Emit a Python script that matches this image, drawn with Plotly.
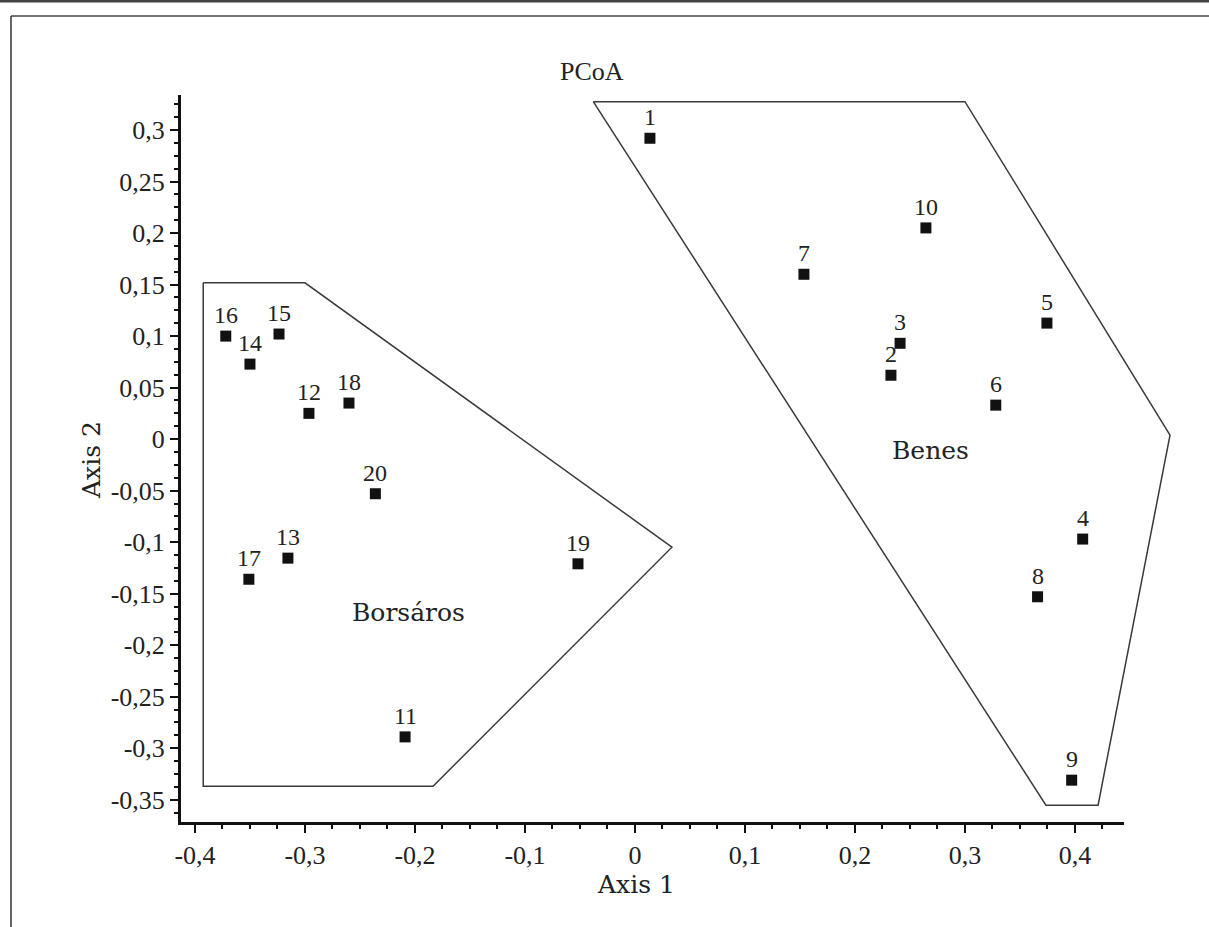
import plotly.graph_objects as go

# ---- data ----
sample_ids = [str(i) for i in range(1, 21)]
axis1 = [0.0136, 0.2327, 0.241, 0.407, 0.3745, 0.328, 0.1536, 0.366, 0.397, 0.2645,
         -0.209, -0.2964, -0.3155, -0.350, -0.3236, -0.372, -0.351, -0.260, -0.0518, -0.236]
axis2 = [0.292, 0.062, 0.093, -0.097, 0.1126, 0.033, 0.160, -0.153, -0.331, 0.205,
         -0.289, 0.025, -0.1155, 0.0728, 0.102, 0.100, -0.136, 0.035, -0.121, -0.053]

benes_hull_x = [-0.0379, 0.300, 0.4864, 0.421, 0.3736, -0.0379]
benes_hull_y = [0.3275, 0.3275, 0.0039, -0.3553, -0.3553, 0.3275]
borsaros_hull_x = [-0.3925, -0.300, 0.0336, -0.1836, -0.3925, -0.3925]
borsaros_hull_y = [0.1517, 0.1517, -0.1049, -0.3369, -0.3369, 0.1517]

group_names = ["Benes", "Borsáros"]
group_label_x = [0.269, -0.206]
group_label_y = [-0.011, -0.168]

x_ticks = [-0.4, -0.3, -0.2, -0.1, 0.0, 0.1, 0.2, 0.3, 0.4]
x_ticktext = ["-0,4", "-0,3", "-0,2", "-0,1", "0", "0,1", "0,2", "0,3", "0,4"]
y_ticks = [0.3, 0.25, 0.2, 0.15, 0.1, 0.05, 0.0, -0.05, -0.1, -0.15, -0.2, -0.25, -0.3, -0.35]
y_ticktext = ["0,3", "0,25", "0,2", "0,15", "0,1", "0,05", "0", "-0,05", "-0,1", "-0,15",
              "-0,2", "-0,25", "-0,3", "-0,35"]

x_range = [-0.4127, 0.4445]
y_range = [-0.3716, 0.334]

# ---- layout geometry ----
W, H = 1209, 927
ml, mr, mt, mb = 181, 19, 95, 105
pw = W - ml - mr
ph = H - mt - mb
px_per_unit = 1100.0
main_frac = (x_range[1] - x_range[0]) * px_per_unit / pw
x2_range = [x_range[0], x_range[0] + pw / px_per_unit]

SERIF = "Liberation Serif, Times New Roman, serif"
WIDE = "DejaVu Serif, serif"
TXT = "#222222"

fig = go.Figure()

# hull outlines on a wider, same-scale hidden x axis so they may extend past the axis end
for hx, hy in [(benes_hull_x, benes_hull_y), (borsaros_hull_x, borsaros_hull_y)]:
    fig.add_trace(go.Scatter(x=hx, y=hy, mode="lines", xaxis="x2", yaxis="y",
                             line=dict(color="#3a3a3a", width=1.5),
                             hoverinfo="skip", showlegend=False))

fig.add_trace(go.Scatter(x=axis1, y=axis2, mode="markers", xaxis="x", yaxis="y",
                         marker=dict(symbol="square", size=11, color="#111111"),
                         text=sample_ids, showlegend=False, cliponaxis=False))

annotations = []
for sx, sy, lab in zip(axis1, axis2, sample_ids):
    annotations.append(dict(x=sx, y=sy, xref="x", yref="y", text=lab, showarrow=False,
                            xanchor="center", yanchor="middle",
                            yshift=21, font=dict(family=SERIF, size=24, color=TXT)))
for gx, gy, gname in zip(group_label_x, group_label_y, group_names):
    annotations.append(dict(x=gx, y=gy, xref="x", yref="y", text=gname, showarrow=False,
                            xanchor="center", yanchor="middle",
                            font=dict(family=WIDE, size=25, color=TXT)))

def paper_x(px):
    return (px - ml) / pw

def paper_y(py):
    return (H - mb - py) / ph

annotations.append(dict(x=paper_x(592), y=paper_y(71), xref="paper", yref="paper", text="PCoA",
                        xanchor="center", yanchor="middle",
                        showarrow=False, font=dict(family=SERIF, size=26, color=TXT)))
annotations.append(dict(x=paper_x(636), y=paper_y(884), xref="paper", yref="paper", text="Axis 1",
                        xanchor="center", yanchor="middle",
                        showarrow=False, font=dict(family=WIDE, size=25, color=TXT)))
annotations.append(dict(x=paper_x(92), y=paper_y(460), xref="paper", yref="paper", text="Axis 2",
                        xanchor="center", yanchor="middle",
                        textangle=-90, showarrow=False, font=dict(family=WIDE, size=25, color=TXT)))

shapes = [
    dict(type="line", xref="paper", yref="paper", x0=paper_x(0), x1=paper_x(W), y0=paper_y(1), y1=paper_y(1),
         line=dict(color="#444444", width=3)),
    dict(type="line", xref="paper", yref="paper", x0=paper_x(11), x1=paper_x(W), y0=paper_y(16), y1=paper_y(16),
         line=dict(color="#444444", width=1.5)),
    dict(type="line", xref="paper", yref="paper", x0=paper_x(11), x1=paper_x(11), y0=paper_y(16), y1=paper_y(H),
         line=dict(color="#333333", width=1.5)),
]

fig.update_layout(
    width=W, height=H,
    margin=dict(l=ml, r=mr, t=mt, b=mb, pad=0),
    paper_bgcolor="white", plot_bgcolor="rgba(0,0,0,0)",
    showlegend=False,
    font=dict(family=SERIF, size=24, color=TXT),
    xaxis=dict(domain=[0, main_frac], range=x_range, anchor="y",
               showgrid=False, zeroline=False, showline=True, linecolor="#111111", linewidth=3,
               ticks="outside", ticklen=8, tickwidth=2, tickcolor="#111111",
               tickvals=x_ticks, ticktext=x_ticktext,
               tickfont=dict(family=SERIF, size=26, color=TXT),
               minor=dict(tick0=0, dtick=0.025, ticks="outside", ticklen=4, tickwidth=1.5, tickcolor="#111111",
                          showgrid=False)),
    xaxis2=dict(domain=[0, 1], range=x2_range, anchor="y", visible=False,
                showgrid=False, zeroline=False),
    yaxis=dict(domain=[0, 1], range=y_range, anchor="x",
               showgrid=False, zeroline=False, showline=True, linecolor="#111111", linewidth=3,
               ticks="outside", ticklen=8, tickwidth=2, tickcolor="#111111",
               tickvals=y_ticks, ticktext=y_ticktext,
               tickfont=dict(family=SERIF, size=26, color=TXT),
               minor=dict(tick0=0, dtick=0.0125, ticks="outside", ticklen=4, tickwidth=1.5, tickcolor="#111111",
                          showgrid=False)),
    annotations=annotations,
    shapes=shapes,
)

fig.write_html("out.html", config={"displayModeBar": False},
               post_script="document.body.style.margin='0';document.body.style.overflow='hidden';")
